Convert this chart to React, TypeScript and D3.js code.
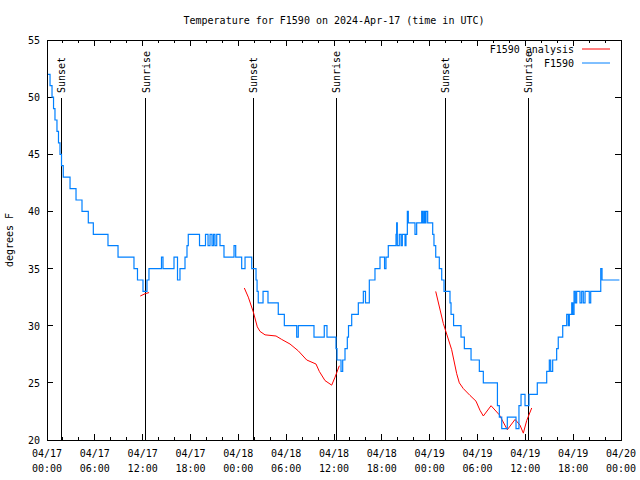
import * as d3 from 'd3';

// hours since 2024-04-17 00:00 UTC
const T0 = Date.UTC(2024, 3, 17);

const obsHours = [
  0.13, 0.38, 0.63, 0.82, 1.0, 1.25, 1.44, 1.63, 1.82, 2.04, 2.89, 3.64, 4.39, 5.18, 5.81,
  7.65, 8.91, 10.91, 11.35, 12.04, 12.54, 12.79, 14.36, 14.55, 15.93, 16.37, 16.68, 17.31,
  17.56, 17.72, 19.13, 19.88, 20.2, 20.45, 20.7, 20.89, 21.07, 21.29, 21.7, 22.2, 23.46,
  23.67, 24.42, 24.84, 25.68, 26.22, 26.35, 26.5, 27.1, 27.72, 29.01, 29.77, 31.32, 31.52,
  33.49, 34.78, 35.12, 36.25, 36.38, 36.88, 37.09, 37.38, 37.67, 37.82, 38.22, 39.05, 39.68,
  39.95, 40.43, 41.14, 41.77, 42.34, 42.52, 42.81, 43.78, 43.86, 43.94, 44.19, 44.41, 44.57,
  44.91, 45.03, 45.2, 45.32, 46.16, 46.37, 47.0, 47.13, 47.29, 47.42, 47.54, 47.75, 48.38,
  48.54, 48.76, 49.21, 49.51, 49.8, 50.55, 50.68, 51.0, 51.93, 52.35, 53.19, 54.23, 54.73,
  56.5, 56.74, 57.04, 57.74, 58.83, 59.2, 59.46, 59.96, 60.46, 61.5, 62.68, 63.01, 63.18,
  63.43, 63.93, 64.13, 64.69, 65.19, 65.39, 65.52, 65.82, 65.95, 66.11, 66.27, 66.44, 66.86,
  67.07, 67.27, 67.49, 68.02, 68.2, 69.46, 69.62, 71.8,
];
const obsTemps = [
  52, 51, 50, 49, 48, 47, 46, 45, 44, 43, 42, 41, 40, 39, 38,
  37, 36, 35, 34, 33, 34, 35, 36, 35, 36, 34, 35, 36,
  37, 38, 37, 38, 37, 38, 37, 38, 37, 38, 37, 36, 37,
  36, 35, 36, 35, 34, 33, 32, 33, 32, 31, 30, 29, 30,
  29, 30, 29, 28, 27, 26, 27, 28, 29, 30, 31, 32, 33,
  32, 34, 35, 36, 35, 36, 37, 38, 39, 37, 38, 37, 38,
  37, 38, 40, 39, 38, 39, 40, 39, 40, 39, 40, 39, 38,
  37, 36, 35, 34, 33, 32, 31, 30, 29, 28, 27, 26, 25,
  23, 22, 21, 22, 21, 23, 24, 23, 24, 25, 26, 27, 26,
  27, 28, 29, 30, 31, 30, 31, 32, 31, 33, 32, 33, 32,
  33, 32, 33, 32, 33, 35, 34, 34,
];

// analysis, null = gap between runs
const anaHours = [
  11.7, 12.3, 12.8, null,
  24.75, 25.25, 25.88, 26.38, 26.72, 27.35, 28.73, 29.44, 30.48, 31.52, 32.58, 33.74, 34.16,
  34.87, 35.71, 36.13, 36.67, null,
  48.76, 49.71, 50.76, 51.39, 51.72, 52.22, 53.06, 53.81, 54.31, 54.73, 55.7, 56.74, 57.74,
  58.71, 59.33, 59.75, 60.17, 60.8,
];
const anaTemps = [
  32.6, 32.8, 32.9, null,
  33.3, 32.5, 31.2, 29.9, 29.5, 29.2, 29.1, 28.8, 28.4, 27.8, 27.0, 26.65, 26.0,
  25.2, 24.8, 25.5, 26.5, null,
  33.0, 30.2, 27.9, 25.8, 25.0, 24.5, 23.9, 23.4, 22.6, 22.1, 23.0, 22.2, 20.9,
  21.8, 21.3, 20.6, 21.7, 22.8,
];

const sunHours = [1.79, 12.38, 25.88, 36.29, 49.96, 60.37];
const sunLabels = ['Sunset', 'Sunrise', 'Sunset', 'Sunrise', 'Sunset', 'Sunrise'];

const yTicks = [20, 25, 30, 35, 40, 45, 50, 55];

const W = 640;
const H = 480;
const L = 47;
const R = 621;
const TOP = 40;
const BOT = 440;
const FONT = 'DejaVu Sans Mono, monospace';
const OBS_COLOR = '#0080ff';
const ANA_COLOR = '#ff0000';

const toDate = (h: number) => new Date(T0 + h * 3600e3);

export default function App() {
  const x = d3.scaleUtc().domain([toDate(0), toDate(72)]).range([L, R]);
  const y = d3.scaleLinear().domain([20, 55]).range([BOT, TOP]);

  const major = x.ticks(d3.utcHour.every(6)!);
  const minor = x.ticks(d3.utcHour.every(2)!).filter((d) => d.getUTCHours() % 6 !== 0);

  const obs = obsHours.map((h, i) => [h, obsTemps[i]] as [number, number]);
  const ana = anaHours.map((h, i) => [h, anaTemps[i]] as [number | null, number | null]);

  const obsLine = d3
    .line<[number, number]>()
    .x((d) => x(toDate(d[0])))
    .y((d) => y(d[1]))
    .curve(d3.curveStepAfter);

  const anaLine = d3
    .line<[number | null, number | null]>()
    .defined((d) => d[0] !== null && d[1] !== null)
    .x((d) => x(toDate(d[0] as number)))
    .y((d) => y(d[1] as number));

  const fmtDay = d3.utcFormat('%m/%d');
  const fmtTime = d3.utcFormat('%H:%M');

  return (
    <svg
      width={W}
      height={H}
      style={{ position: 'absolute', left: 0, top: 0, background: '#fff' }}
      fontFamily={FONT}
      fontSize={10}
    >
      <rect x={0} y={0} width={W} height={H} fill="#fff" />

      {/* title */}
      <text x={(L + R) / 2} y={24} textAnchor="middle" fill="#000">
        Temperature for F1590 on 2024-Apr-17 (time in UTC)
      </text>

      {/* y label */}
      <text
        transform={`translate(13,${(TOP + BOT) / 2}) rotate(-90)`}
        textAnchor="middle"
        fill="#000"
      >
        degrees F
      </text>

      {/* y ticks + labels */}
      {yTicks.map((v) => (
        <g key={v}>
          <line x1={L} x2={L + 6} y1={y(v)} y2={y(v)} stroke="#000" shapeRendering="crispEdges" />
          <line x1={R} x2={R - 6} y1={y(v)} y2={y(v)} stroke="#000" shapeRendering="crispEdges" />
          <text x={L - 7} y={y(v) + 4} textAnchor="end" fill="#000">
            {v}
          </text>
        </g>
      ))}

      {/* x ticks */}
      {major.map((d) => (
        <g key={+d}>
          <line x1={x(d)} x2={x(d)} y1={BOT} y2={BOT - 6} stroke="#000" shapeRendering="crispEdges" />
          <line x1={x(d)} x2={x(d)} y1={TOP} y2={TOP + 6} stroke="#000" shapeRendering="crispEdges" />
          <text x={x(d)} y={457} textAnchor="middle" fill="#000">
            {fmtDay(d)}
          </text>
          <text x={x(d)} y={472} textAnchor="middle" fill="#000">
            {fmtTime(d)}
          </text>
        </g>
      ))}
      {minor.map((d) => (
        <g key={+d}>
          <line x1={x(d)} x2={x(d)} y1={BOT} y2={BOT - 3} stroke="#000" shapeRendering="crispEdges" />
          <line x1={x(d)} x2={x(d)} y1={TOP} y2={TOP + 3} stroke="#000" shapeRendering="crispEdges" />
        </g>
      ))}

      {/* sunrise / sunset */}
      {sunHours.map((h, i) => (
        <g key={h}>
          <line
            x1={x(toDate(h))}
            x2={x(toDate(h))}
            y1={98}
            y2={BOT}
            stroke="#000"
            shapeRendering="crispEdges"
          />
          <text
            transform={`translate(${x(toDate(h)) + 4},93) rotate(-90)`}
            textAnchor="start"
            fill="#000"
          >
            {sunLabels[i]}
          </text>
        </g>
      ))}

      {/* series */}
      <path d={anaLine(ana) ?? ''} fill="none" stroke={ANA_COLOR} strokeWidth={1} />
      <path d={obsLine(obs) ?? ''} fill="none" stroke={OBS_COLOR} strokeWidth={1.2} />

      {/* legend */}
      <text x={574} y={53} textAnchor="end" fill="#000">
        F1590 analysis
      </text>
      <line x1={582} x2={610} y1={49} y2={49} stroke={ANA_COLOR} />
      <text x={574} y={67} textAnchor="end" fill="#000">
        F1590
      </text>
      <line x1={582} x2={610} y1={63} y2={63} stroke={OBS_COLOR} />

      {/* border */}
      <rect
        x={L}
        y={TOP}
        width={R - L}
        height={BOT - TOP}
        fill="none"
        stroke="#000"
        shapeRendering="crispEdges"
      />
    </svg>
  );
}
